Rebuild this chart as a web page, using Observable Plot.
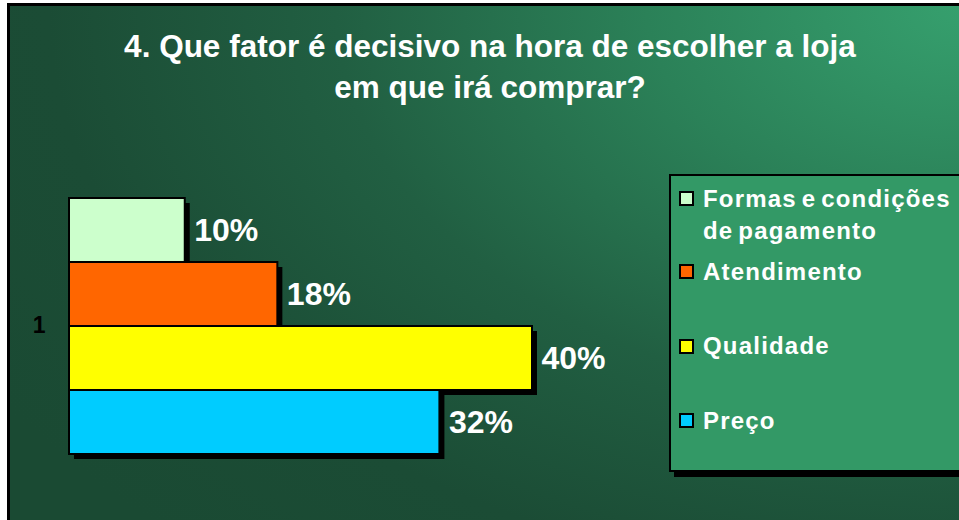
<!DOCTYPE html>
<html>
<head>
<meta charset="utf-8">
<script src="https://cdn.jsdelivr.net/npm/d3@7"></script>
<script src="https://cdn.jsdelivr.net/npm/@observablehq/plot@0.6"></script>
<style>
  html, body { margin: 0; padding: 0; background: #fff; }
  #page { position: relative; width: 959px; height: 520px; overflow: hidden; background: #fff;
          font-family: "Liberation Sans", Arial, sans-serif; }
  #bg { position: absolute; left: 7px; top: 3px; right: -10px; bottom: -10px;
        border-left: 3px solid #000; border-top: 3px solid #000;
        background: radial-gradient(ellipse 120% 140% at 100% 0%, #36a06e 0%, #2b8158 28%, #215f42 55%, #1b4c35 80%, #1a4a33 100%); }
  #title { position: absolute; left: 0; width: 980px; top: 26px; text-align: center;
           color: #fff; font-weight: bold; font-size: 31.5px; line-height: 41px; }
  #chart { position: absolute; left: 0; top: 0; }
  #legendBox { position: absolute; left: 669px; top: 174px; width: 320px; height: 294px;
               background: #339966; border: 2px solid #000; box-shadow: 5px 5px 0 #000; }
  .sw { position: absolute; left: 679px; width: 11px; height: 11px; border: 2px solid #000; }
  .lt { position: absolute; left: 703px; color: #fff; font-weight: bold; font-size: 24px;
        line-height: 32px; letter-spacing: 1.2px; word-spacing: -3px; white-space: nowrap; }
</style>
</head>
<body>
<div id="page">
  <div id="bg"></div>
  <div id="title">4. Que fator é decisivo na hora de escolher a loja<br>em que irá comprar?</div>
  <div id="chart"></div>
  <div id="legendBox"></div>
  <div id="legend"></div>
</div>
<script>
const categories = ["1"];
const series = ["Formas e condições de pagamento", "Atendimento", "Qualidade", "Preço"];
const legendLines = [["Formas e condições", "de pagamento"], ["Atendimento"], ["Qualidade"], ["Preço"]];
const values = [10, 18, 40, 32];
const colors = ["#CCFFCC", "#FF6600", "#FFFF00", "#00CCFF"];

const data = series.map((s, i) => ({cat: categories[0], series: s, value: values[i]}));

const chart = Plot.plot({
  width: 959,
  height: 520,
  marginLeft: 69,
  marginRight: 427,
  marginTop: 196,
  marginBottom: 65,
  style: {background: "transparent", fontFamily: "Liberation Sans, Arial, sans-serif",
          color: "#000", overflow: "visible"},
  x: {domain: [0, 40], axis: null},
  y: {domain: series, padding: 0, axis: null},
  fy: {domain: categories, padding: 0, axis: null, label: null},
  color: {domain: series, range: colors},
  marks: [
    Plot.barX(data, {x: "value", y: "series", fy: "cat", fill: "#000", dx: 5, dy: 5}),
    Plot.barX(data, {x: "value", y: "series", fy: "cat", fill: "series", stroke: "#000", strokeWidth: 2}),
    Plot.text(data, {x: "value", y: "series", fy: "cat", text: d => d.value + "%", dx: 9,
                     textAnchor: "start", fill: "#fff", fontSize: 32, fontWeight: "bold"}),
    // category label ("1") on the left, positioned by the fy scale
    Plot.text(categories, {fy: d => d, text: d => d, frameAnchor: "left", dx: -24,
                           textAnchor: "end", fill: "#000", fontSize: 23, fontWeight: "bold"})
  ]
});
document.getElementById("chart").appendChild(chart);

// Legend built from the same color scale
const color = chart.scale("color");
const legend = document.getElementById("legend");
const swTops = [191, 264, 339, 413];
const txTops = [183, 256, 330, 405];
series.forEach((s, i) => {
  const sw = document.createElement("div");
  sw.className = "sw";
  sw.style.top = swTops[i] + "px";
  sw.style.background = color.apply(s);
  legend.appendChild(sw);
  const t = document.createElement("div");
  t.className = "lt";
  t.style.top = txTops[i] + "px";
  t.innerHTML = legendLines[i].join("<br>");
  legend.appendChild(t);
});
</script>
</body>
</html>
